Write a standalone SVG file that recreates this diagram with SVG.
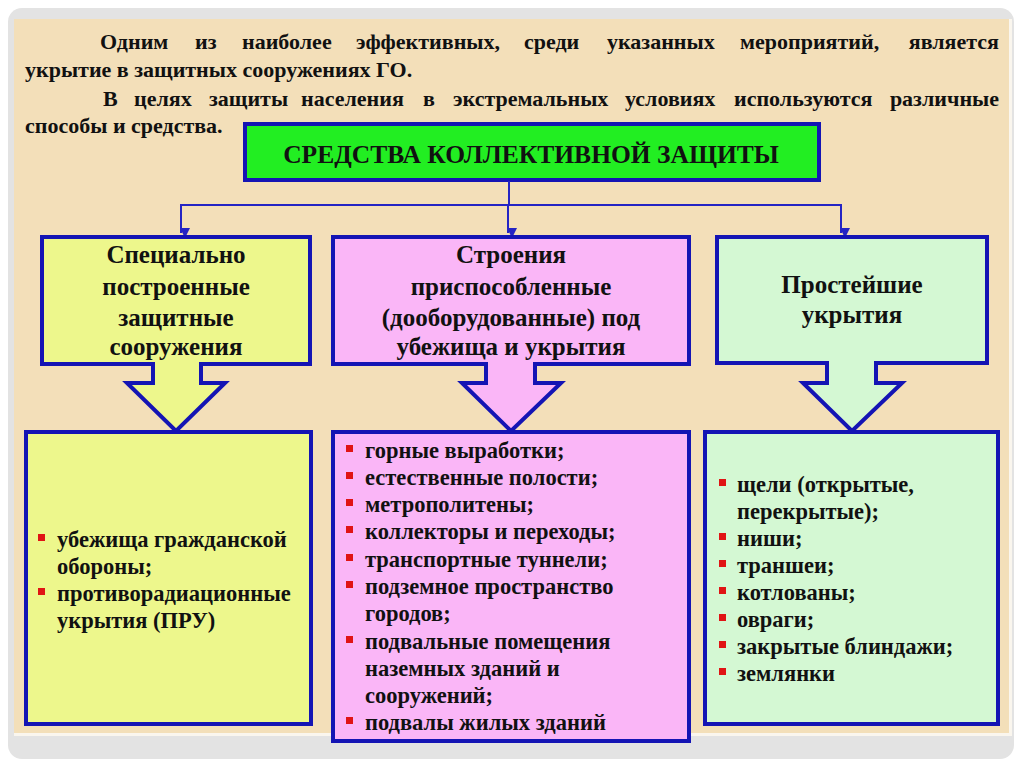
<svg xmlns="http://www.w3.org/2000/svg" width="1024" height="767" viewBox="0 0 1024 767">
<defs>
<style>
.t{font-family:'Liberation Serif','Tinos','Times New Roman','DejaVu Serif',serif;font-weight:bold;fill:#111}
.p{font-size:22px}
.h{font-size:25px;text-anchor:middle}
.l{font-size:22.5px}
.ttl{font-size:25.5px;text-anchor:middle}
.box{stroke:#1414B4;stroke-width:4}
.conn{stroke:#2424C4;stroke-width:2;fill:none}
.b{fill:#E01414}
.y{fill:#EDF78C}
.k{fill:#FAB6F7}
.g{fill:#D4F8D3}
</style>
<marker id="ah" markerWidth="10" markerHeight="10" refX="5" refY="9" orient="auto" markerUnits="userSpaceOnUse" viewBox="0 0 10 10">
<path d="M0,0 L10,0 L5,10 Z" fill="#2424C4" transform="rotate(-90 5 5)"/>
</marker>
</defs>
<rect width="1024" height="767" fill="#FFFFFF"/>
<rect x="8" y="8" width="1006" height="751" rx="14" fill="#E3E3E3"/>
<rect x="14" y="19" width="995" height="714" fill="#F3DFB9"/>
<line x1="14" y1="734.5" x2="1011" y2="734.5" stroke="#FAF6EE" stroke-width="3"/>
<line x1="1010.5" y1="19" x2="1010.5" y2="736" stroke="#FAF6EE" stroke-width="3"/>

<g id="intro" class="t p">
<text y="49"><tspan x="100">Одним</tspan><tspan x="195">из</tspan><tspan x="242">наиболее</tspan><tspan x="356">эффективных,</tspan><tspan x="524">среди</tspan><tspan x="607">указанных</tspan><tspan x="740">мероприятий,</tspan></text>
<text x="999" y="49" text-anchor="end">является</text>
<text x="25" y="77">укрытие в защитных сооружениях ГО.</text>
<text y="106"><tspan x="103">В</tspan><tspan x="134">целях</tspan><tspan x="209">защиты</tspan><tspan x="301">населения</tspan><tspan x="423">в</tspan><tspan x="453">экстремальных</tspan><tspan x="625">условиях</tspan><tspan x="734">используются</tspan></text>
<text x="999" y="106" text-anchor="end">различные</text>
<text x="25" y="133">способы и средства.</text>
</g>

<g id="title">
<rect x="245" y="124" width="574" height="56" fill="#22EE22" class="box" stroke-width="3"/>
<text x="531" y="163" class="t ttl">СРЕДСТВА КОЛЛЕКТИВНОЙ ЗАЩИТЫ</text>
</g>

<g id="connectors" class="conn">
<line x1="509" y1="181" x2="509" y2="205"/>
<line x1="180" y1="205" x2="842" y2="205"/>
<line x1="181" y1="205" x2="181" y2="233" marker-end="url(#ah)"/>
<line x1="508" y1="205" x2="508" y2="233" marker-end="url(#ah)"/>
<line x1="841" y1="205" x2="841" y2="233" marker-end="url(#ah)"/>
</g>

<g id="n1">
<rect x="42" y="237" width="268" height="127" class="box y"/>
<polygon points="153,362 201,362 201,383 225,383 176,431 127,383 153,383" class="y"/>
<polyline points="153,362 153,383 127,383 176,431 225,383 201,383 201,362" fill="none" stroke="#1414B4" stroke-width="4"/>
<text class="t h"><tspan x="176" y="263">Специально</tspan><tspan x="176" y="295">построенные</tspan><tspan x="176" y="326">защитные</tspan><tspan x="176" y="355">сооружения</tspan></text>
</g>

<g id="n2">
<rect x="333" y="237" width="356" height="127" class="box k"/>
<polygon points="486,362 535,362 535,383 561,383 511,431 462,383 486,383" class="k"/>
<polyline points="486,362 486,383 462,383 511,431 561,383 535,383 535,362" fill="none" stroke="#1414B4" stroke-width="4"/>
<text class="t h"><tspan x="511" y="263">Строения</tspan><tspan x="511" y="295">приспособленные</tspan><tspan x="511" y="326">(дооборудованные) под</tspan><tspan x="511" y="355">убежища и укрытия</tspan></text>
</g>

<g id="n3">
<rect x="717" y="237" width="270" height="126" class="box g"/>
<polygon points="827,361 876,361 876,383 902,383 852,431 803,383 827,383" class="g"/>
<polyline points="827,361 827,383 803,383 852,431 902,383 876,383 876,361" fill="none" stroke="#1414B4" stroke-width="4"/>
<text class="t h"><tspan x="852" y="293">Простейшие</tspan><tspan x="852" y="323">укрытия</tspan></text>
</g>

<g id="n4">
<rect x="26" y="432" width="285" height="292" class="box y"/>
<rect x="38" y="534" width="7" height="7" class="b"/>
<rect x="38" y="588" width="7" height="7" class="b"/>
<text class="t l"><tspan x="57" y="547">убежища гражданской</tspan><tspan x="57" y="574">обороны;</tspan><tspan x="57" y="601">противорадиационные</tspan><tspan x="57" y="628">укрытия (ПРУ)</tspan></text>
</g>

<g id="n5">
<rect x="333" y="432" width="356" height="309" class="box k"/>
<g class="b">
<rect x="346" y="445" width="7" height="7"/>
<rect x="346" y="472" width="7" height="7"/>
<rect x="346" y="499" width="7" height="7"/>
<rect x="346" y="526" width="7" height="7"/>
<rect x="346" y="554" width="7" height="7"/>
<rect x="346" y="581" width="7" height="7"/>
<rect x="346" y="636" width="7" height="7"/>
<rect x="346" y="717" width="7" height="7"/>
</g>
<text class="t l"><tspan x="365" y="458">горные выработки;</tspan><tspan x="365" y="485">естественные полости;</tspan><tspan x="365" y="512">метрополитены;</tspan><tspan x="365" y="539">коллекторы и переходы;</tspan><tspan x="365" y="567">транспортные туннели;</tspan><tspan x="365" y="594">подземное пространство</tspan><tspan x="365" y="621">городов;</tspan><tspan x="365" y="649">подвальные помещения</tspan><tspan x="365" y="676">наземных зданий и</tspan><tspan x="365" y="703">сооружений;</tspan><tspan x="365" y="730">подвалы жилых зданий</tspan></text>
</g>

<g id="n6">
<rect x="705" y="432" width="293" height="292" class="box g"/>
<g class="b">
<rect x="719" y="479" width="7" height="7"/>
<rect x="719" y="533" width="7" height="7"/>
<rect x="719" y="560" width="7" height="7"/>
<rect x="719" y="587" width="7" height="7"/>
<rect x="719" y="614" width="7" height="7"/>
<rect x="719" y="641" width="7" height="7"/>
<rect x="719" y="668" width="7" height="7"/>
</g>
<text class="t l"><tspan x="737" y="492">щели (открытые,</tspan><tspan x="737" y="519">перекрытые);</tspan><tspan x="737" y="546">ниши;</tspan><tspan x="737" y="573">траншеи;</tspan><tspan x="737" y="600">котлованы;</tspan><tspan x="737" y="627">овраги;</tspan><tspan x="737" y="654">закрытые блиндажи;</tspan><tspan x="737" y="681">землянки</tspan></text>
</g>
</svg>
